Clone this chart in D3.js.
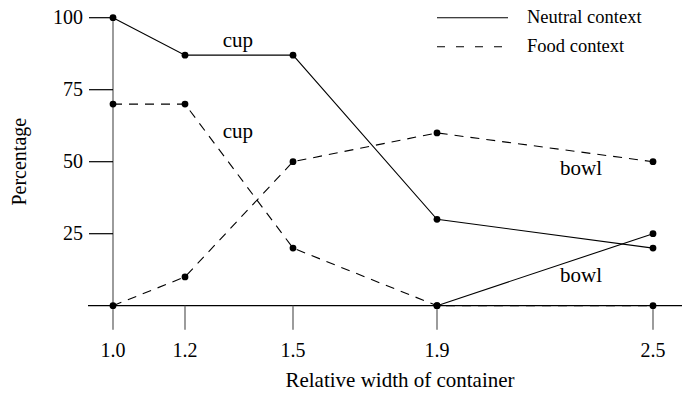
<!DOCTYPE html>
<html>
<head>
<meta charset="utf-8">
<script src="https://cdn.jsdelivr.net/npm/d3@7"></script>
<style>
  body { margin: 0; background: #fff; }
  svg { display: block; font-family: "Liberation Serif", "Times New Roman", serif; }
</style>
</head>
<body>
<div id="chart"></div>
<script>
// container width ratios and percentages
const widths = [1.0, 1.2, 1.5, 1.9, 2.5];
const xTickLabels = ['1.0', '1.2', '1.5', '1.9', '2.5'];
const yTicks = [25, 50, 75, 100];

const neutralCup = [100, 87, 87, 30, 20];
const neutralBowl = [null, null, null, 0, 25];
const foodCup = [70, 70, 20, 0, 0];
const foodBowl = [0, 10, 50, 60, 50];

const labels = [
    { text: 'cup', x: 1.347, y: 90 },
    { text: 'cup', x: 1.347, y: 58.2 },
    { text: 'bowl', x: 2.3, y: 45.4 },
    { text: 'bowl', x: 2.3, y: 8.3 }
];

const legendItems = [
    { name: 'Neutral context', dashed: false },
    { name: 'Food context', dashed: true }
];

const width = 682;
const height = 395;
const dash = '9,7';

const svg = d3.select('#chart').append('svg')
    .attr('width', width)
    .attr('height', height);

const x = d3.scaleLinear().domain([1.0, 2.5]).range([113, 653]);
const y = d3.scaleLinear().domain([0, 100]).range([305.7, 17.7]);

// x axis: black baseline, grey drop ticks
svg.append('line')
    .attr('x1', 88).attr('x2', width)
    .attr('y1', y(0)).attr('y2', y(0))
    .attr('stroke', '#000').attr('stroke-width', 1.2);

const xt = svg.selectAll('.xtick')
    .data(widths)
    .enter().append('g')
    .attr('class', 'xtick')
    .attr('transform', d => 'translate(' + x(d) + ',0)');
xt.append('line')
    .attr('y1', y(0)).attr('y2', y(0) + 24)
    .attr('stroke', '#666').attr('stroke-width', 1.3);
xt.append('text')
    .attr('y', 357)
    .attr('text-anchor', 'middle')
    .style('font-size', '20px')
    .text((d, i) => xTickLabels[i]);

// y axis: grey vertical line, black ticks on the left
svg.append('line')
    .attr('x1', x(1.0)).attr('x2', x(1.0))
    .attr('y1', y(100)).attr('y2', y(0))
    .attr('stroke', '#666').attr('stroke-width', 1.3);

const yt = svg.selectAll('.ytick')
    .data(yTicks)
    .enter().append('g')
    .attr('class', 'ytick')
    .attr('transform', d => 'translate(0,' + y(d) + ')');
yt.append('line')
    .attr('x1', 89).attr('x2', x(1.0))
    .attr('stroke', '#000').attr('stroke-width', 1.2);
yt.append('text')
    .attr('x', 83)
    .attr('dy', '0.33em')
    .attr('text-anchor', 'end')
    .style('font-size', '20px')
    .text(d => d);

svg.append('text')
    .attr('x', 400)
    .attr('y', 387)
    .attr('text-anchor', 'middle')
    .style('font-size', '21px')
    .text('Relative width of container');

svg.append('text')
    .attr('transform', 'translate(26,' + y(50) + ') rotate(-90)')
    .attr('text-anchor', 'middle')
    .style('font-size', '20px')
    .text('Percentage');

// series
const line = d3.line()
    .defined(d => d.v !== null)
    .x(d => x(d.w))
    .y(d => y(d.v));

const series = [
    { values: neutralCup, dashed: false },
    { values: neutralBowl, dashed: false },
    { values: foodCup, dashed: true },
    { values: foodBowl, dashed: true }
];

series.forEach(function (s) {
    const pts = widths.map((w, i) => ({ w: w, v: s.values[i] }));
    svg.append('path')
        .datum(pts)
        .attr('d', line)
        .attr('fill', 'none')
        .attr('stroke', '#000')
        .attr('stroke-width', 1.1)
        .attr('stroke-dasharray', s.dashed ? dash : null);
    svg.selectAll(null)
        .data(pts.filter(d => d.v !== null))
        .enter().append('circle')
        .attr('cx', d => x(d.w))
        .attr('cy', d => y(d.v))
        .attr('r', 3.4)
        .attr('fill', '#000');
});

svg.selectAll('.label')
    .data(labels)
    .enter().append('text')
    .attr('class', 'label')
    .attr('x', d => x(d.x))
    .attr('y', d => y(d.y))
    .attr('text-anchor', 'middle')
    .style('font-size', '21px')
    .text(d => d.text);

// legend
const lg = svg.selectAll('.legend')
    .data(legendItems)
    .enter().append('g')
    .attr('class', 'legend')
    .attr('transform', (d, i) => 'translate(0,' + (17.7 + i * 29) + ')');
lg.append('line')
    .attr('x1', 437).attr('x2', 508)
    .attr('stroke', '#000').attr('stroke-width', 1.1)
    .attr('stroke-dasharray', d => d.dashed ? '8,11' : null);
lg.append('text')
    .attr('x', 527)
    .attr('y', 5)
    .style('font-size', '18.5px')
    .text(d => d.name);
</script>
</body>
</html>
